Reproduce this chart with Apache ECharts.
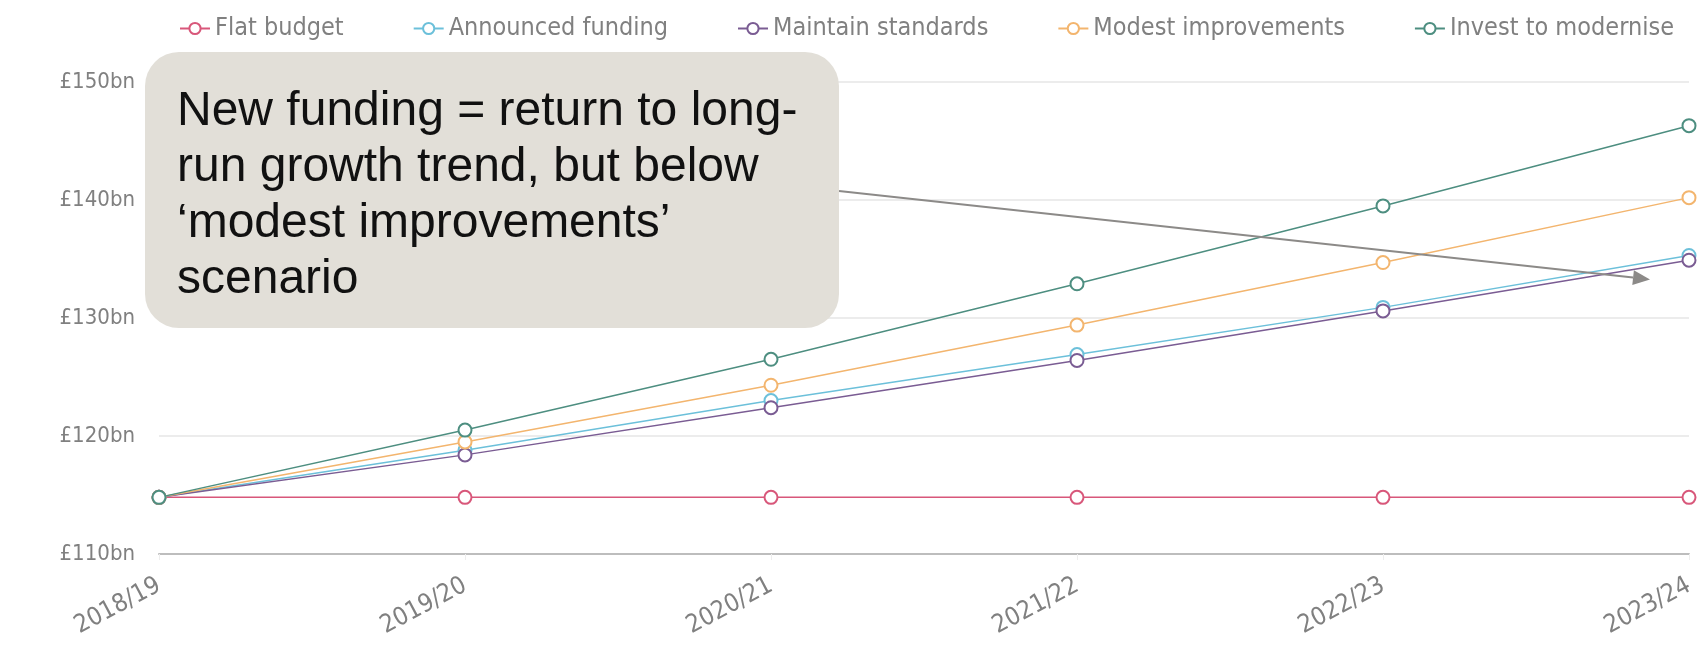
<!DOCTYPE html>
<html>
<head>
<meta charset="utf-8">
<title>NHS funding scenarios</title>
<script src="https://cdn.jsdelivr.net/npm/echarts@6/dist/echarts.min.js"></script>
<style>
  html, body { margin: 0; padding: 0; background: #fff; }
  #chart { width: 1704px; height: 666px; }
</style>
</head>
<body>
<div id="chart"></div>
<script>
// Financial years on the x axis
const years = ['2018/19', '2019/20', '2020/21', '2021/22', '2022/23', '2023/24'];

// Spending under each scenario, £bn
const flatBudget = [114.8, 114.8, 114.8, 114.8, 114.8, 114.8];
const announcedFunding = [114.8, 118.8, 123.0, 126.9, 130.9, 135.3];
const maintainStandards = [114.8, 118.4, 122.4, 126.4, 130.6, 134.9];
const modestImprovements = [114.8, 119.5, 124.3, 129.4, 134.7, 140.2];
const investToModernise = [114.8, 120.5, 126.5, 132.9, 139.5, 146.3];

// Y axis range and step, £bn
const yMin = 110, yMax = 150, yStep = 10;

const calloutText = 'New funding = return to long-\nrun growth trend, but below\n\u2018modest improvements\u2019\nscenario';

const chart = echarts.init(document.getElementById('chart'), null, { renderer: 'canvas' });

const labelFont = '"Liberation Sans Narrow", "DejaVu Sans Condensed", Roboto, sans-serif';

function lineSeries(name, data, color) {
  return {
    name: name,
    type: 'line',
    data: data,
    symbol: 'emptyCircle',
    symbolSize: 13,
    lineStyle: { width: 1.5, color: color },
    itemStyle: { color: color, borderWidth: 1.5 },
    emphasis: { disabled: true }
  };
}

const option = {
  animation: false,
  backgroundColor: '#ffffff',
  textStyle: { fontFamily: labelFont },
  legend: {
    top: 11,
    left: 174,
    itemGap: 69,
    itemWidth: 30,
    itemHeight: 14,
    textStyle: { color: '#808080', fontSize: 25, fontFamily: labelFont },
    data: ['Flat budget', 'Announced funding', 'Maintain standards', 'Modest improvements', 'Invest to modernise']
  },
  grid: { left: 159, right: 15, top: 82, bottom: 112, containLabel: false },
  xAxis: {
    type: 'category',
    data: years,
    boundaryGap: false,
    axisLine: { lineStyle: { color: '#bdbdbd', width: 2 } },
    axisTick: { show: true, length: 6, lineStyle: { color: '#eeeeee' } },
    axisLabel: { rotate: 28, color: '#808080', fontSize: 25, fontFamily: labelFont, margin: 30, interval: 0 }
  },
  yAxis: {
    type: 'value',
    min: yMin,
    max: yMax,
    interval: yStep,
    axisLine: { show: false },
    axisTick: { show: false },
    axisLabel: { color: '#808080', fontSize: 22, fontFamily: labelFont, margin: 24, formatter: '£{value}bn' },
    splitLine: { lineStyle: { color: '#ececec', width: 2 } }
  },
  series: [
    lineSeries('Flat budget', flatBudget, '#d8577a'),
    lineSeries('Announced funding', announcedFunding, '#6cc0da'),
    lineSeries('Maintain standards', maintainStandards, '#7a5c93'),
    lineSeries('Modest improvements', modestImprovements, '#f3b56e'),
    lineSeries('Invest to modernise', investToModernise, '#4d8e80')
  ]
};

chart.setOption(option);

// Callout box and arrow pointing at the announced-funding end point
const target = chart.convertToPixel({ seriesIndex: 1 }, [years.length - 1, announcedFunding[announcedFunding.length - 1]]);
const tip = [target[0] - 39, target[1] + 24];
const start = [839, 191];
const ang = Math.atan2(tip[1] - start[1], tip[0] - start[0]);
const headLen = 17, headW = 7.5;
const base = [tip[0] - headLen * Math.cos(ang), tip[1] - headLen * Math.sin(ang)];
const head = [
  tip,
  [base[0] + headW * Math.sin(ang), base[1] - headW * Math.cos(ang)],
  [base[0] - headW * Math.sin(ang), base[1] + headW * Math.cos(ang)]
];

chart.setOption({
  graphic: [
    {
      type: 'line',
      z: 100,
      shape: { x1: start[0], y1: start[1], x2: base[0], y2: base[1] },
      style: { stroke: '#8c8a88', lineWidth: 2 }
    },
    {
      type: 'polygon',
      z: 100,
      shape: { points: head },
      style: { fill: '#8c8a88' }
    },
    {
      type: 'rect',
      z: 101,
      shape: { x: 145, y: 52, width: 694, height: 276, r: 34 },
      style: { fill: '#e2dfd8' }
    },
    {
      type: 'text',
      z: 102,
      x: 177,
      y: 84,
      style: {
        text: calloutText,
        fill: '#111',
        font: '48px "Liberation Sans", Arial, sans-serif',
        lineHeight: 56,
        verticalAlign: 'top'
      }
    }
  ]
});
</script>
</body>
</html>
